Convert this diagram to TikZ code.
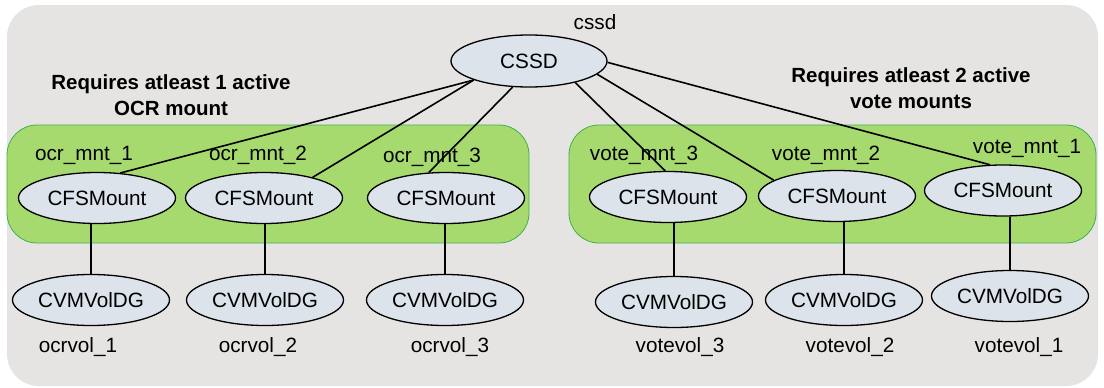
\documentclass[tikz,border=0pt]{standalone}
\usepackage{fontspec}
\setmainfont{Liberation Sans}
\usetikzlibrary{shapes.geometric}
\definecolor{bggray}{HTML}{E5E4E2}
\definecolor{grpgreen}{HTML}{A6DA6E}
\definecolor{grpedge}{HTML}{3DB04E}
\definecolor{ellfill}{HTML}{DCE3EA}
\tikzset{
  res/.style={ellipse, draw=black, line width=1.3pt, fill=ellfill, inner sep=0pt,
    minimum width=157pt, minimum height=51pt, font=\fontsize{20.7}{24}\selectfont},
  lbl/.style={inner sep=0pt, font=\fontsize{20.7}{24}\selectfont},
  note/.style={inner sep=0pt, align=center, font=\fontsize{20.5}{26}\selectfont\bfseries},
  grp/.style={draw=grpedge, line width=0.8pt, fill=grpgreen, rounded corners=30pt},
  link/.style={draw=black, line width=1.6pt}
}
\begin{document}
\begin{tikzpicture}[x=1pt,y=-1pt]
\useasboundingbox (0,0) rectangle (1104,388);
\fill[white] (0,0) rectangle (1104,388);
\fill[bggray, rounded corners=32pt] (7,5) rectangle (1098,386);
\path[grp] (7,125) rectangle (529,243);
\path[grp] (569,125) rectangle (1096,243);

\node[res, minimum width=156pt, minimum height=52pt] (cssd) at (529,61) {CSSD};
\node[lbl] (cssdl) at (595,22) {cssd};

\node[note] (noteL) at (171,95) {Requires atleast 1 active\\OCR mount};
\node[note] (noteR) at (911,88) {Requires atleast 2 active\\vote mounts};

\node[res] (m1) at (97,198) {CFSMount};
\node[res] (m2) at (264,198) {CFSMount};
\node[res] (m3) at (446,198) {CFSMount};
\node[res] (v3) at (668,197) {CFSMount};
\node[res] (v2) at (837,196) {CFSMount};
\node[res] (v1) at (1003,190.5) {CFSMount};

\node[lbl] (m1l) at (84,155) {ocr\_mnt\_1};
\node[lbl] (m2l) at (258,155) {ocr\_mnt\_2};
\node[lbl] (m3l) at (432,157) {ocr\_mnt\_3};
\node[lbl] (v3l) at (644,155) {vote\_mnt\_3};
\node[lbl] (v2l) at (826,155) {vote\_mnt\_2};
\node[lbl] (v1l) at (1027,148) {vote\_mnt\_1};

\node[res] (d1) at (91,300) {CVMVolDG};
\node[res] (d2) at (265,300) {CVMVolDG};
\node[res] (d3) at (445,300) {CVMVolDG};
\node[res] (e3) at (674,302) {CVMVolDG};
\node[res] (e2) at (844,300) {CVMVolDG};
\node[res] (e1) at (1010,296) {CVMVolDG};

\node[lbl] (d1l) at (78,347) {ocrvol\_1};
\node[lbl] (d2l) at (258,347) {ocrvol\_2};
\node[lbl] (d3l) at (450,347) {ocrvol\_3};
\node[lbl] (e3l) at (680,347) {votevol\_3};
\node[lbl] (e2l) at (850,347) {votevol\_2};
\node[lbl] (e1l) at (1019,347) {votevol\_1};

\draw[link] (cssd.199) -- (m1.47);
\draw[link] (cssd.199) -- (m2.23.5);
\draw[link] (cssd.238) -- (m3.124);
\draw[link] (cssd.335) -- (v3.96);
\draw[link] (cssd.349) -- (v2.166);
\draw[link] (cssd.359) -- (v1.117);

\draw[link] (d1.north) -- (d1.north |- m1.south);
\draw[link] (d2.north) -- (d2.north |- m2.south);
\draw[link] (d3.north) -- (d3.north |- m3.south);
\draw[link] (e3.north) -- (e3.north |- v3.south);
\draw[link] (e2.north) -- (e2.north |- v2.south);
\draw[link] (e1.north) -- (e1.north |- v1.south);
\end{tikzpicture}
\end{document}
